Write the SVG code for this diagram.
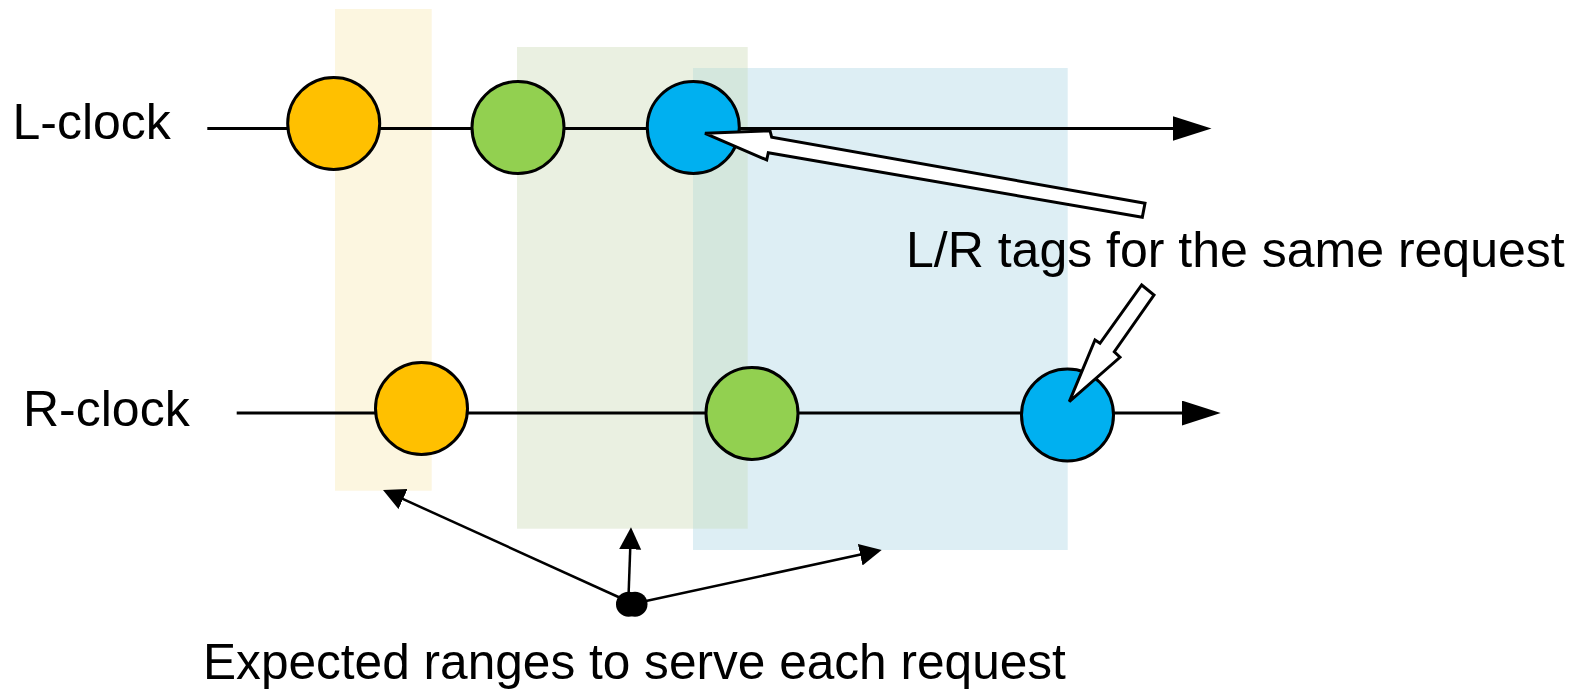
<svg xmlns="http://www.w3.org/2000/svg" width="1587" height="697" viewBox="0 0 1587 697">
  <defs>
    <style>
      .lbl { font-family: "Liberation Sans", Arial, sans-serif; font-size: 50px; fill: #000; }
      .axis { stroke: #000; stroke-width: 3; fill: none; }
      .ptr { stroke: #000; stroke-width: 2.5; fill: none; }
      .tag { stroke: #000; stroke-width: 3; }
      .orange { fill: #FFC000; }
      .green { fill: #92D050; }
      .blue { fill: #00B0F0; }
      .callout { fill: #fff; stroke: #000; stroke-width: 3; stroke-linejoin: miter; }
    </style>
    <marker id="axisHead" markerUnits="userSpaceOnUse" viewBox="0 0 40 26" markerWidth="40" markerHeight="26" refX="4" refY="12.5" orient="auto">
      <path d="M0,0 L39,12.5 L0,25 Z" fill="#000"/>
    </marker>
    <marker id="ptrHead" markerUnits="userSpaceOnUse" viewBox="0 0 24 24" markerWidth="24" markerHeight="24" refX="4" refY="11" orient="auto">
      <path d="M0,0 L22,11 L0,22 Z" fill="#000"/>
    </marker>
  </defs>

  <rect width="1587" height="697" fill="#fff"/>

  <!-- expected service ranges -->
  <g id="ranges">
    <rect id="range-orange" x="335" y="9" width="96.7" height="481.7" fill="#FCF6E0"/>
    <rect id="range-green" x="517" y="47" width="230.7" height="481.7" fill="#EAF0E1"/>
    <rect id="range-blue" x="693" y="68" width="374.7" height="482" fill="#DDEEF4"/>
    <rect id="range-overlap" x="693" y="68" width="54.7" height="460.7" fill="#D4E7DD"/>
  </g>

  <!-- clock axes and pointers -->
  <g id="connectors">
    <line class="axis" x1="207.3" y1="128.5" x2="1176.5" y2="128.5" marker-end="url(#axisHead)"/>
    <line class="axis" x1="236.7" y1="413" x2="1185.7" y2="413" marker-end="url(#axisHead)"/>
    <line class="ptr" x1="625" y1="600" x2="399.4" y2="497.4" marker-end="url(#ptrHead)"/>
    <line class="ptr" x1="628.5" y1="597" x2="630.35" y2="545.3" marker-end="url(#ptrHead)"/>
    <line class="ptr" x1="646" y1="601" x2="864.1" y2="553.8" marker-end="url(#ptrHead)"/>
  </g>

  <!-- L-clock tags -->
  <g id="l-tag-orange"><circle class="tag orange" cx="333.7" cy="123.5" r="46"/></g>
  <g id="l-tag-green"><circle class="tag green" cx="518" cy="127.5" r="46"/></g>
  <g id="l-tag-blue"><circle class="tag blue" cx="693.3" cy="127.5" r="46"/></g>

  <!-- R-clock tags -->
  <g id="r-tag-orange"><circle class="tag orange" cx="421.5" cy="408.5" r="46"/></g>
  <g id="r-tag-green"><circle class="tag green" cx="752" cy="413.4" r="46"/></g>
  <g id="r-tag-blue"><circle class="tag blue" cx="1067.5" cy="415" r="46"/></g>

  <!-- hollow callout arrows -->
  <g id="callouts">
    <polygon class="callout" points="705,133.3 770,130.7 771.7,137.3 1145,203.3 1142.3,217.3 768.3,152.7 766.7,160"/>
    <polygon class="callout" points="1069.3,401.7 1095,340 1100,343.3 1141.7,285 1154,295 1114.3,351.7 1120,357.3"/>
  </g>

  <!-- pointer origin -->
  <g id="origin">
    <circle cx="628.5" cy="604.2" r="12.5" fill="#000"/>
    <circle cx="635" cy="604.2" r="12.5" fill="#000"/>
  </g>

  <g id="labels">
    <text id="label-l" class="lbl" x="12.5" y="139.3">L-clock</text>
    <text id="label-r" class="lbl" x="23" y="425.7">R-clock</text>
    <text id="label-tags" class="lbl" x="906" y="266.7">L/R tags for the same request</text>
    <text id="label-ranges" class="lbl" x="203" y="679.3" style="font-size:49.6px">Expected ranges to serve each request</text>
  </g>
</svg>
